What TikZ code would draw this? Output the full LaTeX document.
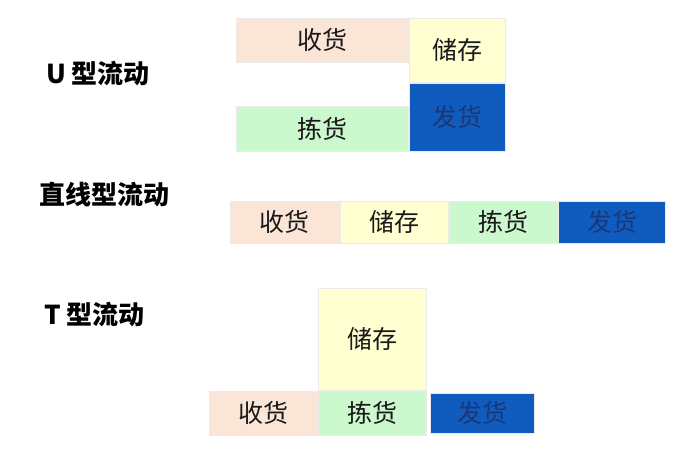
\documentclass[tikz,border=0pt]{standalone}
\usepackage{fontspec}
\newfontfamily\cjk{Noto Sans CJK SC}
\usetikzlibrary{positioning}

\definecolor{shou}{HTML}{FBE5D6}
\definecolor{chu}{HTML}{FFFFD2}
\definecolor{jian}{HTML}{CCF8CE}
\definecolor{fa}{HTML}{0F5CBE}
\definecolor{fatext}{HTML}{1A3878}

\tikzset{
  box/.style={draw=black!8, line width=0.8pt, inner sep=0pt, minimum height=44pt,
    font=\cjk\fontsize{25}{27}\selectfont, text=black!90},
  title/.style={anchor=west, inner sep=0pt, font=\cjk\bfseries\fontsize{26}{28}\selectfont}
}

\begin{document}
\begin{tikzpicture}[x=1pt,y=-1pt]
  \useasboundingbox (0,0) rectangle (686,450);

  % U flow
  \node[title] (tu) at (46,74) {U 型流动};
  \node[box, fill=shou, minimum width=172pt, anchor=north west] (u1) at (236,18) {收货};
  \node[box, fill=chu, minimum width=96pt, minimum height=64pt, anchor=north west] (u2) at (u1.north east) {储存};
  \node[box, fill=fa, text=fatext, minimum width=96pt, minimum height=68pt, anchor=north] (u4) at (u2.south) {发货};
  \node[box, fill=jian, minimum width=172pt, minimum height=45pt, anchor=south east] (u3) at (u4.south west) {拣货};

  % straight flow
  \node[title] (ts) at (39,195) {直线型流动};
  \node[box, fill=shou, minimum width=109pt, minimum height=42pt, anchor=north west] (s1) at (230,201) {收货};
  \node[box, fill=chu, minimum width=108pt, minimum height=42pt, right=0pt of s1] (s2) {储存};
  \node[box, fill=jian, minimum width=109pt, minimum height=42pt, right=0pt of s2] (s3) {拣货};
  \node[box, fill=fa, text=fatext, minimum width=107pt, minimum height=42pt, right=0pt of s3] (s4) {发货};

  % T flow
  \node[title] (tt) at (44,315) {T 型流动};
  \node[box, fill=chu, minimum width=108pt, minimum height=102pt, anchor=north west] (t2) at (318,288) {储存};
  \node[box, fill=jian, minimum width=108pt, anchor=north] (t3) at (t2.south) {拣货};
  \node[box, fill=shou, minimum width=108pt, left=0pt of t3] (t1) {收货};
  \node[box, fill=fa, text=fatext, minimum width=104pt, minimum height=40pt, right=3pt of t3] (t4) {发货};
\end{tikzpicture}
\end{document}
